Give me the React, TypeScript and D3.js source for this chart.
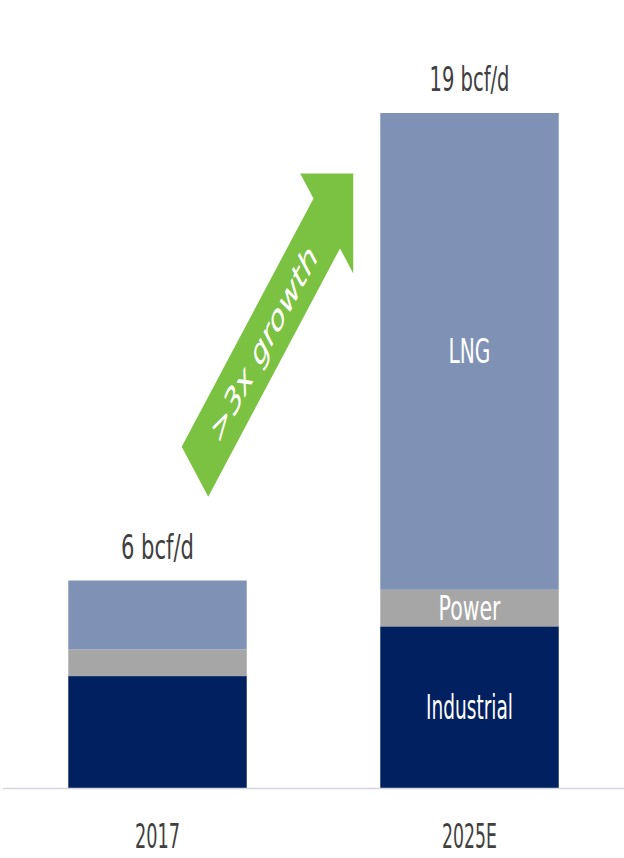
import React from "react";
import * as d3 from "d3";

const categories = ["2017", "2025E"];
const seriesNames = ["Industrial", "Power", "LNG"];
const industrial = [3.15, 4.55];
const power = [0.75, 1.03];
const lng = [1.94, 13.42];
const totalLabels = ["6 bcf/d", "19 bcf/d"];
const growthLabel = ">3x growth";

const W = 624;
const H = 858;
const colors: Record<string, string> = {
  Industrial: "#002060",
  Power: "#a6a6a6",
  LNG: "#7f92b6",
};
const FONT = "'DejaVu Sans', 'Open Sans', sans-serif";

export default function App() {
  const rows = categories.map((c, i) => ({
    cat: c,
    Industrial: industrial[i],
    Power: power[i],
    LNG: lng[i],
  }));
  const stack = d3.stack<any>().keys(seriesNames)(rows);
  const totals = rows.map((r) => r.Industrial + r.Power + r.LNG);

  const x = d3
    .scaleBand<string>()
    .domain(categories)
    .range([1.5, 625.5])
    .paddingInner(0.428)
    .paddingOuter(0.214);
  const y = d3.scaleLinear().domain([0, 19]).range([788, 113]);
  const bw = x.bandwidth();

  // arrow annotation (sheared, as in the squeezed original), anchored on scales
  const tail: [number, number] = [x("2017")! + bw * 0.71, y(8.9)];
  const tip: [number, number] = [x("2025E")! - 27, y(17.3)];
  const dx = tip[0] - tail[0];
  const dy = tip[1] - tail[1];
  const L = Math.hypot(dx, dy);
  const ux = dx / L;
  const uy = dy / L;
  const nx = ux;
  const ny = -uy;
  const sw = 28.3;
  const hw = 56.6;
  const hl = 56.6;
  const pt = (t: number, s: number) => [tail[0] + ux * t + nx * s, tail[1] + uy * t + ny * s];
  const arrowPts = [
    pt(0, -sw),
    pt(L - hl, -sw),
    pt(L - hl, -hw),
    pt(L, 0),
    pt(L - hl, hw),
    pt(L - hl, sw),
    pt(0, sw),
  ];
  const tc = pt(146, 0);

  const segLabels: Record<string, number> = { Industrial: 87, Power: 62, LNG: 42 };

  return (
    <svg
      width={W}
      height={H}
      style={{ position: "absolute", left: 0, top: 0, background: "#fff" }}
    >
      {stack.map((layer) =>
        layer.map((d, i) => (
          <rect
            key={layer.key + i}
            x={x(categories[i])}
            y={y(d[1])}
            width={bw}
            height={y(d[0]) - y(d[1])}
            fill={colors[layer.key]}
          />
        ))
      )}
      <line x1={3} x2={W} y1={788.5} y2={788.5} stroke="#d6d4de" strokeWidth={1.5} />
      {stack.map((layer) => {
        const d = layer[1];
        const cy = (y(d[0]) + y(d[1])) / 2;
        return (
          <text
            key={"l" + layer.key}
            x={x("2025E")! + bw / 2}
            y={cy + 12}
            textAnchor="middle"
            fill="#ffffff"
            fontFamily={FONT}
            fontSize={33}
            textLength={segLabels[layer.key]}
            lengthAdjust="spacingAndGlyphs"
          >
            {layer.key}
          </text>
        );
      })}
      {categories.map((c, i) => (
        <text
          key={"t" + c}
          x={x(c)! + bw / 2}
          y={y(totals[i]) - 22}
          textAnchor="middle"
          fill="#404040"
          fontFamily={FONT}
          fontSize={33}
          textLength={i === 0 ? 73 : 80}
          lengthAdjust="spacingAndGlyphs"
        >
          {totalLabels[i]}
        </text>
      ))}
      {categories.map((c, i) => (
        <text
          key={"c" + c}
          x={x(c)! + bw / 2}
          y={848}
          textAnchor="middle"
          fill="#404040"
          fontFamily={FONT}
          fontSize={34}
          textLength={i === 0 ? 45 : 55}
          lengthAdjust="spacingAndGlyphs"
        >
          {c}
        </text>
      ))}
      <polygon points={arrowPts.map((p) => p.join(",")).join(" ")} fill="#7cc242" />
      <text
        transform={`matrix(${ux},${uy},${nx},${ny},${tc[0]},${tc[1]})`}
        x={0}
        y={11}
        textAnchor="middle"
        fill="#ffffff"
        fontFamily={FONT}
        fontSize={31}
        textLength={212}
        lengthAdjust="spacingAndGlyphs"
      >
        {growthLabel}
      </text>
    </svg>
  );
}
